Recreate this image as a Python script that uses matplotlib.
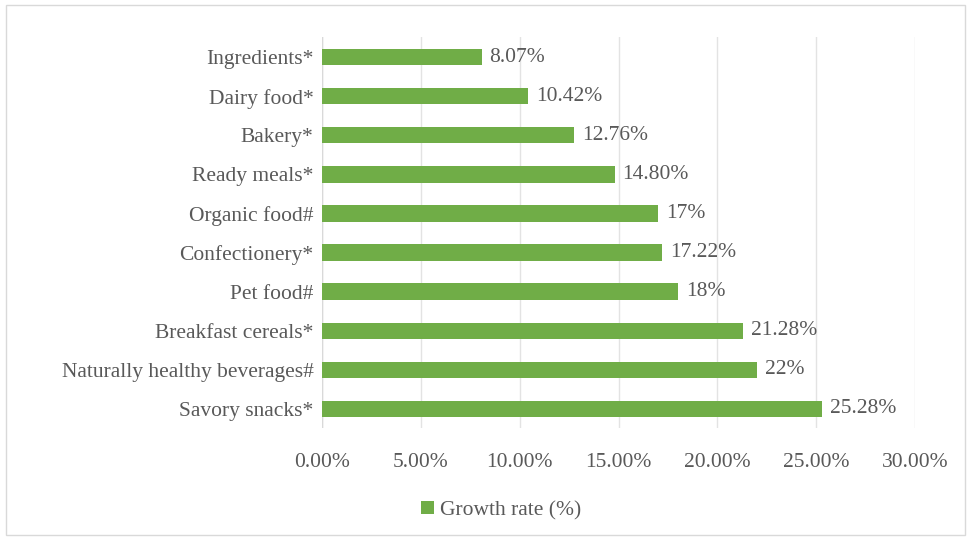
import matplotlib.pyplot as plt
from matplotlib.patches import Rectangle
from matplotlib.ticker import FuncFormatter

# Data (top to bottom as shown in the chart)
categories = ['Ingredients*', 'Dairy food*', 'Bakery*', 'Ready meals*', 'Organic food#',
              'Confectionery*', 'Pet food#', 'Breakfast cereals*',
              'Naturally healthy beverages#', 'Savory snacks*']
growth = [8.07, 10.42, 12.76, 14.80, 17, 17.22, 18, 21.28, 22, 25.28]
value_labels = ['8.07%', '10.42%', '12.76%', '14.80%', '17%', '17.22%', '18%',
                '21.28%', '22%', '25.28%']
x_ticks = [0, 5, 10, 15, 20, 25, 30]

plt.rcParams['font.family'] = ['Liberation Serif', 'DejaVu Serif']
text_color = '#595959'
bar_color = '#70AD47'
fs = 15.5

fig = plt.figure(figsize=(9.69, 5.43), dpi=100)
ax = fig.add_axes([0.3323, 0.2109, 0.6120, 0.7201])

# plot bottom-up so first category is on top
ypos = list(range(len(categories)))[::-1]
bars = ax.barh(ypos, growth, height=0.42, color=bar_color, label='Growth rate (%)', zorder=3)

for y, v, lab in zip(ypos, growth, value_labels):
    ax.text(v + 0.4, y, lab, va='center', ha='left', fontsize=fs, color=text_color)

ax.set_xlim(0, 30)
ax.set_ylim(-0.5, len(categories) - 0.5)
ax.set_xticks(x_ticks)
ax.xaxis.set_major_formatter(FuncFormatter(lambda x, p: f'{x:.2f}%'))
ax.set_yticks(ypos)
ax.set_yticklabels(categories)
ax.tick_params(axis='both', length=0, labelsize=fs, colors=text_color)
ax.tick_params(axis='x', pad=18)
ax.tick_params(axis='y', pad=6)
ax.grid(axis='x', color='#E3E3E3', linewidth=1, zorder=0)
for s in ax.spines.values():
    s.set_visible(False)
ax.axvline(0, color='#D9D9D9', linewidth=1, zorder=2)

leg = fig.legend(handles=[bars], labels=['Growth rate (%)'], loc='center',
                 bbox_to_anchor=(0.517, 0.06), frameon=False, fontsize=fs,
                 handlelength=0.6, handleheight=0.6, handletextpad=0.3)
for t in leg.get_texts():
    t.set_color(text_color)

# outer chart border
fig.patches.append(Rectangle((0.006, 0.015), 0.99, 0.975, transform=fig.transFigure,
                             fill=False, edgecolor='#D9D9D9', linewidth=1))

fig.savefig('out.png', dpi=100, facecolor='white')
